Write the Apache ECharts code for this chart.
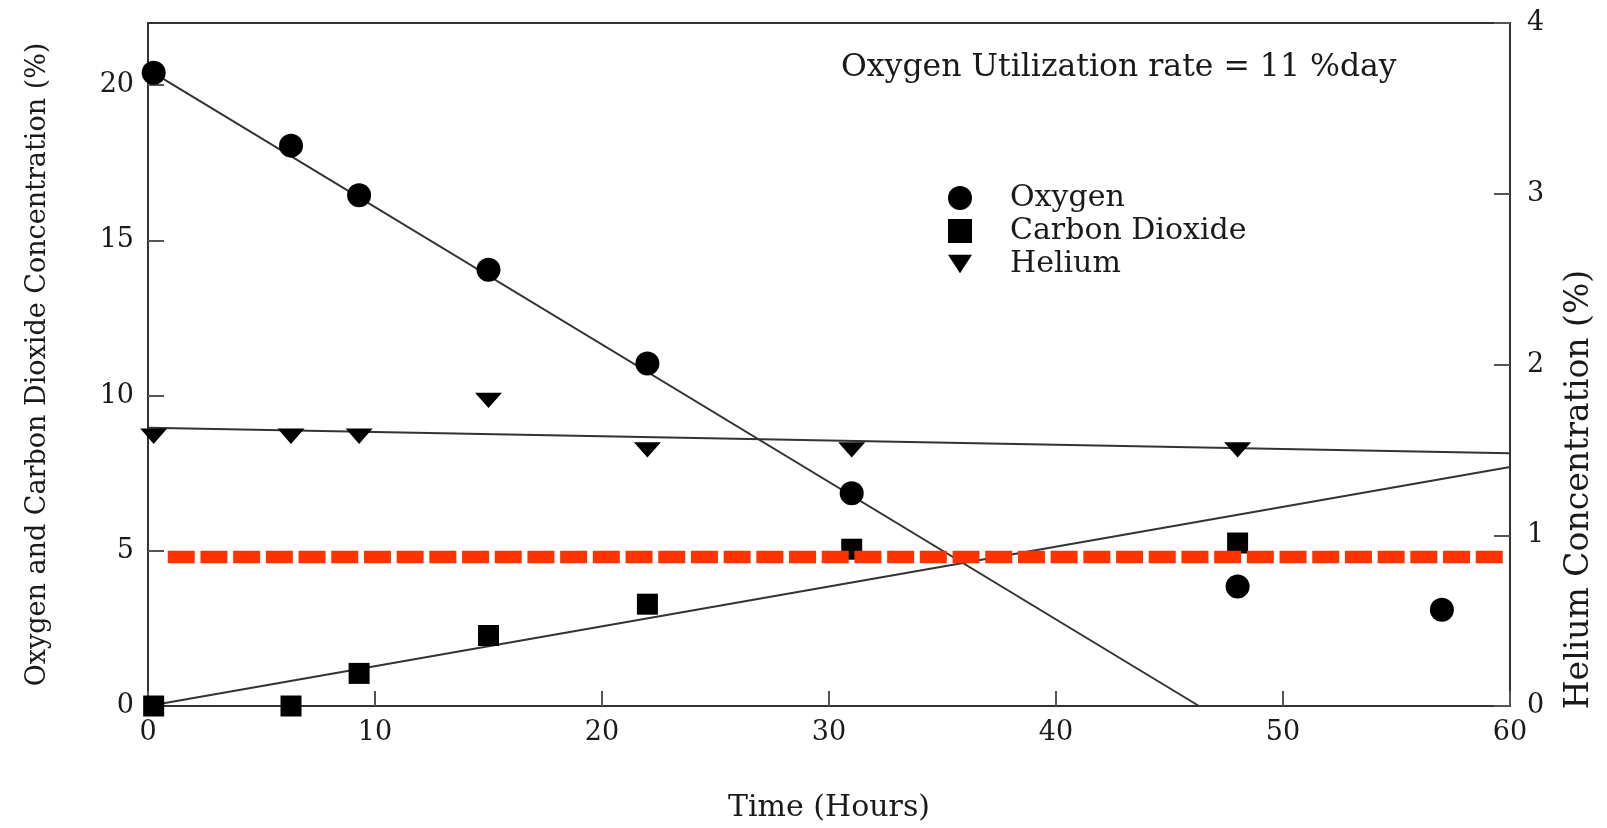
<!DOCTYPE html>
<html>
<head>
<meta charset="utf-8">
<script src="https://cdn.jsdelivr.net/npm/echarts@6/dist/echarts.min.js"></script>
<style>
  html, body { margin: 0; padding: 0; background: #fff; }
  #chart { width: 1607px; height: 828px; }
</style>
</head>
<body>
<div id="chart"></div>
<script>
// ---- data ----
const oxygenHours = [0.25, 6.3, 9.3, 15, 22, 31, 48, 57];
const oxygenPct   = [20.4, 18.05, 16.45, 14.05, 11.03, 6.85, 3.85, 3.1];
const co2Hours    = [0.25, 6.3, 9.3, 15, 22, 31, 48];
const co2Pct      = [0, 0, 1.05, 2.27, 3.28, 5.05, 5.25];
const heliumHours = [0.25, 6.3, 9.3, 15, 22, 31, 48];
const heliumPct   = [1.58, 1.58, 1.58, 1.79, 1.5, 1.5, 1.5];
// fitted lines (end points) and the red reference level
const oxygenFitX = [0, 46.3];
const oxygenFitY = [20.5, 0];
const co2FitX = [0, 60];
const co2FitY = [0, 7.7];
const heliumFitX = [0, 60];
const heliumFitY = [1.63, 1.48];
const refLineX = [0.87, 59.8];
const refLineY = [4.8, 4.8];
const xTicks = [0, 10, 20, 30, 40, 50, 60];
const leftTicks = [0, 5, 10, 15, 20];
const rightTicks = [0, 1, 2, 3, 4];

const zip = (xs, ys) => xs.map((x, i) => [x, ys[i]]);
const INK = '#1a1a1a';
const FONT = 'DejaVu Serif';
const triangleDown = 'path://M0,0L26,0L13,20Z';

const chart = echarts.init(document.getElementById('chart'), null, { renderer: 'canvas' });
chart.setOption({
  backgroundColor: '#ffffff',
  animation: false,
  title: {
    text: 'Oxygen Utilization rate = 11 %day',
    left: 836, top: 47,
    textStyle: { fontFamily: FONT, fontSize: 31.5, fontWeight: 'normal', color: INK }
  },
  legend: {
    orient: 'vertical',
    left: 943, top: 178,
    itemWidth: 24, itemHeight: 24, itemGap: 3,
    data: ['Oxygen', 'Carbon Dioxide', 'Helium'],
    textStyle: { fontFamily: FONT, fontSize: 30, color: INK, padding: [0, 0, 0, 33] },
    selectedMode: false
  },
  grid: {
    left: 148, right: 97, top: 23, bottom: 117,
    show: true, borderColor: '#333', borderWidth: 2, backgroundColor: 'transparent'
  },
  xAxis: {
    type: 'value', min: xTicks[0], max: xTicks[xTicks.length - 1], interval: 10,
    name: 'Time (Hours)', nameLocation: 'middle', nameGap: 87,
    nameTextStyle: { fontFamily: FONT, fontSize: 30, color: INK },
    axisLine: { show: true, lineStyle: { color: '#333', width: 2 } },
    axisTick: { show: true, inside: true, length: 15, lineStyle: { color: '#555', width: 2 } },
    axisLabel: { margin: 13, fontFamily: FONT, fontSize: 27, color: INK },
    splitLine: { show: false }
  },
  yAxis: [
    {
      type: 'value', min: 0, max: 22, interval: 5, position: 'left',
      name: 'Oxygen and Carbon Dioxide Concentration (%)', nameLocation: 'middle', nameGap: 97,
      nameRotate: 90,
      nameTextStyle: { fontFamily: FONT, fontSize: 27, color: INK },
      axisLine: { show: true, lineStyle: { color: '#333', width: 2 } },
      axisTick: { show: true, inside: true, length: 16, lineStyle: { color: '#555', width: 2 } },
      axisLabel: { margin: 14, fontFamily: FONT, fontSize: 27, color: INK, showMaxLabel: false,
        formatter: v => (leftTicks.indexOf(v) >= 0 ? String(v) : '') },
      splitLine: { show: false }
    },
    {
      type: 'value', min: rightTicks[0], max: rightTicks[rightTicks.length - 1], interval: 1, position: 'right',
      name: 'Helium Concentration (%)', nameLocation: 'middle', nameGap: 53,
      nameRotate: 90,
      nameTextStyle: { fontFamily: FONT, fontSize: 33, color: INK, padding: [0, 250, 0, 0] },
      axisLine: { show: true, lineStyle: { color: '#333', width: 2 } },
      axisTick: { show: true, inside: true, length: 16, lineStyle: { color: '#555', width: 2 } },
      axisLabel: { margin: 17, fontFamily: FONT, fontSize: 27, color: INK },
      splitLine: { show: false }
    }
  ],
  series: [
    {
      name: 'Oxygen fit', type: 'line', yAxisIndex: 0, data: zip(oxygenFitX, oxygenFitY),
      symbol: 'none', lineStyle: { color: '#333', width: 2 }, silent: true, z: 2
    },
    {
      name: 'Carbon Dioxide fit', type: 'line', yAxisIndex: 0, data: zip(co2FitX, co2FitY),
      symbol: 'none', lineStyle: { color: '#333', width: 2 }, silent: true, z: 2
    },
    {
      name: 'Helium fit', type: 'line', yAxisIndex: 1, data: zip(heliumFitX, heliumFitY),
      symbol: 'none', lineStyle: { color: '#333', width: 2 }, silent: true, z: 2
    },
    {
      name: 'Oxygen', type: 'scatter', yAxisIndex: 0, data: zip(oxygenHours, oxygenPct),
      symbol: 'circle', symbolSize: 24, symbolKeepAspect: true,
      itemStyle: { color: '#000', opacity: 1 }, z: 3
    },
    {
      name: 'Carbon Dioxide', type: 'scatter', yAxisIndex: 0, data: zip(co2Hours, co2Pct),
      symbol: 'rect', symbolSize: 21, symbolKeepAspect: true,
      itemStyle: { color: '#000', opacity: 1 }, z: 3
    },
    {
      name: 'Helium', type: 'scatter', yAxisIndex: 1, data: zip(heliumHours, heliumPct),
      symbol: triangleDown, symbolSize: [27, 20], symbolKeepAspect: true,
      itemStyle: { color: '#000', opacity: 1 }, z: 3
    },
    {
      name: 'Reference level', type: 'line', yAxisIndex: 0, data: zip(refLineX, refLineY),
      symbol: 'none', silent: true, z: 5,
      lineStyle: { color: '#ff3300', width: 12.7, type: [27, 5.7], cap: 'butt' }
    }
  ]
});
</script>
</body>
</html>
